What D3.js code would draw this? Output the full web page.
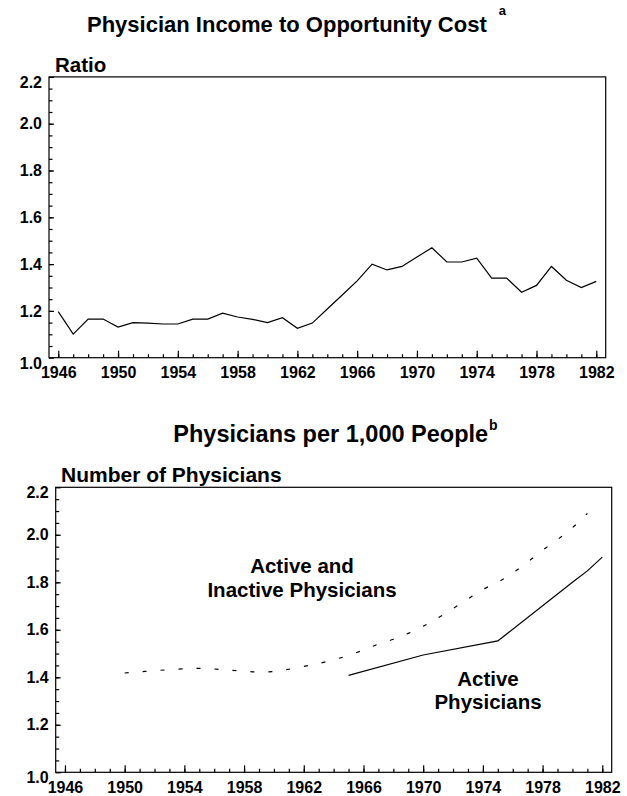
<!DOCTYPE html>
<html>
<head>
<meta charset="utf-8">
<script src="https://cdn.jsdelivr.net/npm/d3@7"></script>
<style>
  body { margin: 0; background: #fff; }
  text { font-family: "Liberation Sans", Arial, Helvetica, sans-serif; font-weight: bold; fill: #000; }
</style>
</head>
<body>
<div id="chart"></div>
<script>
// ---- data ----
const ratioYears = d3.range(1946, 1983);
const ratioValues = [1.197, 1.101, 1.165, 1.165, 1.131, 1.150, 1.148, 1.144, 1.144, 1.165,
  1.165, 1.190, 1.174, 1.164, 1.150, 1.171, 1.126, 1.148, 1.208, 1.268,
  1.328, 1.400, 1.375, 1.390, 1.430, 1.470, 1.409, 1.409, 1.425, 1.340,
  1.340, 1.280, 1.309, 1.390, 1.331, 1.300, 1.326];

const allYears = d3.range(1950, 1982);
const allValues = [1.418, 1.423, 1.428, 1.432, 1.436, 1.438, 1.435, 1.430, 1.426, 1.422,
  1.424, 1.434, 1.446, 1.458, 1.474, 1.492, 1.515, 1.540, 1.560, 1.585,
  1.615, 1.650, 1.690, 1.730, 1.770, 1.800, 1.840, 1.885, 1.935, 1.980,
  2.030, 2.090];

const activeYears = [1965, 1970, 1975, 1980, 1981, 1982];
const activeValues = [1.408, 1.494, 1.553, 1.800, 1.848, 1.906];

const yearTicks = [1946, 1950, 1954, 1958, 1962, 1966, 1970, 1974, 1978, 1982];
const valueTicks = [1.0, 1.2, 1.4, 1.6, 1.8, 2.0, 2.2];

const W = 627, H = 796;
const svg = d3.select('#chart').append('svg')
  .attr('width', W)
  .attr('height', H);

const xDomain = [1945.38, 1982.63];

// draws one framed panel and returns its scales
function panel(box) {
  const x = d3.scaleLinear().domain(xDomain).range([box.left, box.right]);
  const y = d3.scaleLinear().domain([1.0, 2.2]).range([box.bottom, box.top]);
  const g = svg.append('g');

  // minor ticks
  g.append('g')
    .attr('transform', `translate(0,${box.bottom})`)
    .call(d3.axisBottom(x).tickValues(d3.range(1946, 1983)).tickSize(-3.5).tickFormat(''))
    .call(s => s.select('.domain').remove());
  g.append('g')
    .attr('transform', `translate(${box.left},0)`)
    .call(d3.axisLeft(y).tickValues(d3.range(1.05, 2.2, 0.05)).tickSize(-3.5).tickFormat(''))
    .call(s => s.select('.domain').remove());

  // major ticks + labels
  g.append('g')
    .attr('transform', `translate(0,${box.bottom})`)
    .call(d3.axisBottom(x).tickValues(yearTicks).tickSizeInner(-7).tickSizeOuter(0).tickPadding(9).tickFormat(d3.format('d')))
    .call(s => s.select('.domain').remove())
    .call(s => s.selectAll('text').style('font-size', '16px').attr('font-family', null));
  g.append('g')
    .attr('transform', `translate(${box.left},0)`)
    .call(d3.axisLeft(y).tickValues(valueTicks).tickSizeInner(-5).tickSizeOuter(0).tickPadding(7).tickFormat(d3.format('.1f')))
    .call(s => s.select('.domain').remove())
    .call(s => s.selectAll('text').style('font-size', '16px').attr('font-family', null)
      .attr('dy', d => (d === 1.0 || d === 2.2) ? '0.65em' : '0.32em'));

  g.selectAll('.tick line').attr('stroke', '#000').attr('stroke-width', 1.2);

  // frame
  g.append('rect')
    .attr('x', box.left).attr('y', box.top)
    .attr('width', box.right - box.left).attr('height', box.bottom - box.top)
    .attr('fill', 'none').attr('stroke', '#000').attr('stroke-width', 1.2);

  return { x, y, g };
}

// ---- top panel: income / opportunity cost ratio ----
const ratioPanel = panel({ left: 49, right: 605.7, top: 76.9, bottom: 357.7 });

svg.append('text')
  .attr('x', 87).attr('y', 32.3)
  .style('font-size', '22px')
  .text('Physician Income to Opportunity Cost')
  .append('tspan')
  .attr('dx', 12).attr('dy', -17)
  .style('font-size', '13px')
  .text('a');

svg.append('text')
  .attr('x', 55).attr('y', 71.7)
  .style('font-size', '20.5px')
  .text('Ratio');

ratioPanel.g.append('path')
  .datum(ratioYears.map((yr, i) => [yr, ratioValues[i]]))
  .attr('fill', 'none')
  .attr('stroke', '#000')
  .attr('stroke-width', 1.2)
  .attr('d', d3.line().x(d => ratioPanel.x(d[0])).y(d => ratioPanel.y(d[1])));

// ---- bottom panel: physicians per 1,000 people ----
const docPanel = panel({ left: 55.7, right: 611.7, top: 487.3, bottom: 772.3 });

svg.append('text')
  .attr('x', 173.3).attr('y', 441.7)
  .style('font-size', '23.5px')
  .text('Physicians per 1,000 People')
  .append('tspan')
  .attr('dx', 1).attr('dy', -12)
  .style('font-size', '14px')
  .text('b');

svg.append('text')
  .attr('x', 61).attr('y', 481.7)
  .style('font-size', '21px')
  .text('Number of Physicians');

docPanel.g.append('path')
  .datum(allYears.map((yr, i) => [yr, allValues[i]]))
  .attr('fill', 'none')
  .attr('stroke', '#000')
  .attr('stroke-width', 1.2)
  .attr('stroke-dasharray', '4,14')
  .attr('d', d3.line().curve(d3.curveMonotoneX).x(d => docPanel.x(d[0])).y(d => docPanel.y(d[1])));

docPanel.g.append('path')
  .datum(activeYears.map((yr, i) => [yr, activeValues[i]]))
  .attr('fill', 'none')
  .attr('stroke', '#000')
  .attr('stroke-width', 1.2)
  .attr('d', d3.line().x(d => docPanel.x(d[0])).y(d => docPanel.y(d[1])));

// annotations
const notes = [
  { lines: ['Active and', 'Inactive Physicians'], x: 302, y: 573.3 },
  { lines: ['Active', 'Physicians'], x: 488, y: 685.7 }
];
notes.forEach(n => {
  n.lines.forEach((t, i) => {
    svg.append('text')
      .attr('x', n.x).attr('y', n.y + i * 23.5)
      .attr('text-anchor', 'middle')
      .style('font-size', '20.5px')
      .text(t);
  });
});
</script>
</body>
</html>
